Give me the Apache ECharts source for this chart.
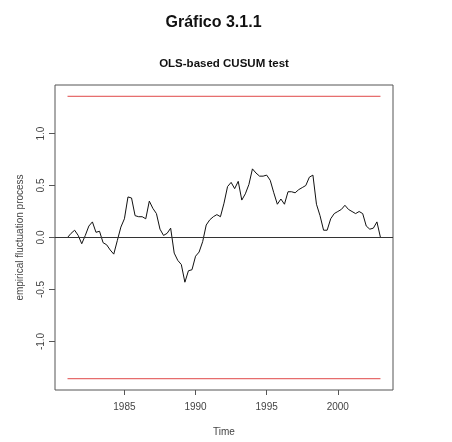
<!DOCTYPE html>
<html>
<head>
<meta charset="utf-8">
<script src="https://cdn.jsdelivr.net/npm/echarts@6/dist/echarts.min.js"></script>
<style>
html,body{margin:0;padding:0;background:#fff;}
#c{width:452px;height:442px;}
</style>
</head>
<body>
<div id="c"></div>
<script>
// Quarterly time points 1981.00 .. 2003.00
var startYear = 1981;
var step = 0.25;
var cusum = [
  0.00, 0.04, 0.07, 0.02,
  -0.06, 0.02, 0.11, 0.15,
  0.05, 0.06, -0.05, -0.07,
  -0.12, -0.16, -0.03, 0.10,
  0.18, 0.39, 0.38, 0.21,
  0.20, 0.20, 0.18, 0.35,
  0.28, 0.23, 0.08, 0.02,
  0.04, 0.09, -0.15, -0.22,
  -0.26, -0.43, -0.32, -0.31,
  -0.18, -0.14, -0.04, 0.12,
  0.17, 0.20, 0.22, 0.20,
  0.33, 0.49, 0.53, 0.47,
  0.54, 0.36, 0.42, 0.51,
  0.66, 0.62, 0.59, 0.59,
  0.60, 0.55, 0.43, 0.32,
  0.37, 0.32, 0.44, 0.44,
  0.43, 0.46, 0.48, 0.50,
  0.58, 0.60, 0.32, 0.21,
  0.07, 0.07, 0.18, 0.23,
  0.25, 0.27, 0.31, 0.27,
  0.25, 0.23, 0.25, 0.23,
  0.11, 0.08, 0.09, 0.15,
  0.00
];
var boundary = 1.358;
var boundaryTimes = [1981, 2003];
var xTicks = [1985, 1990, 1995, 2000];
var yTicks = [-1.0, -0.5, 0.0, 0.5, 1.0];
var yTickLabels = ['-1.0', '-0.5', '0.0', '0.5', '1.0'];

var lineData = cusum.map(function (v, i) { return [startYear + i * step, v]; });
var upper = boundaryTimes.map(function (t) { return [t, boundary]; });
var lower = boundaryTimes.map(function (t) { return [t, -boundary]; });

var xMin = 1981 - 22 * 0.04, xMax = 2003 + 22 * 0.04;
var yMax = boundary * 1.08, yMin = -yMax;

var font = 'Liberation Sans, Arial, sans-serif';
var chart = echarts.init(document.getElementById('c'), null, {renderer: 'canvas'});
chart.setOption({
  animation: false,
  backgroundColor: '#fff',
  graphic: [
    {type: 'text', x: 213.5, y: 22.5, style: {text: 'Gráfico 3.1.1', font: 'bold 16px ' + font, fill: '#111', textAlign: 'center', textVerticalAlign: 'middle'}},
    {type: 'text', x: 224, y: 63.5, style: {text: 'OLS-based CUSUM test', font: 'bold 11.5px ' + font, fill: '#111', textAlign: 'center', textVerticalAlign: 'middle'}}
  ],
  grid: {left: 55, right: 59, top: 85, bottom: 52, show: true, borderColor: '#555', borderWidth: 1, backgroundColor: 'transparent'},
  xAxis: {
    type: 'value', min: xMin, max: xMax,
    name: 'Time', nameLocation: 'middle', nameGap: 37,
    nameTextStyle: {fontFamily: font, fontSize: 10, color: '#444'},
    axisLine: {show: false, onZero: false},
    splitLine: {show: false},
    axisTick: {show: true, length: 5, lineStyle: {color: '#555'}, customValues: xTicks},
    axisLabel: {customValues: xTicks, fontFamily: font, fontSize: 10, color: '#444', margin: 12,
      formatter: function (v) { return String(Math.round(v)); }}
  },
  yAxis: {
    type: 'value', min: yMin, max: yMax,
    name: 'empirical fluctuation process', nameLocation: 'middle', nameGap: 30, nameRotate: 90,
    nameTextStyle: {fontFamily: font, fontSize: 10, color: '#444'},
    axisLine: {show: false, onZero: false},
    splitLine: {show: false},
    axisTick: {show: true, length: 6, lineStyle: {color: '#555'}, customValues: yTicks},
    axisLabel: {customValues: yTicks, rotate: 90, fontFamily: font, fontSize: 10, color: '#444', margin: 9,
      formatter: function (v) {
        var i = yTicks.findIndex(function (t) { return Math.abs(t - v) < 1e-9; });
        return i >= 0 ? yTickLabels[i] : '';
      }}
  },
  series: [
    {type: 'line', data: lineData, symbol: 'none', lineStyle: {color: '#111', width: 1}, z: 3,
      markLine: {silent: true, symbol: 'none', label: {show: false},
        lineStyle: {color: '#333', width: 1, type: 'solid'}, data: [{yAxis: 0}]}},
    {type: 'line', data: upper, symbol: 'none', lineStyle: {color: '#e04848', width: 1}},
    {type: 'line', data: lower, symbol: 'none', lineStyle: {color: '#e04848', width: 1}}
  ]
});
</script>
</body>
</html>
